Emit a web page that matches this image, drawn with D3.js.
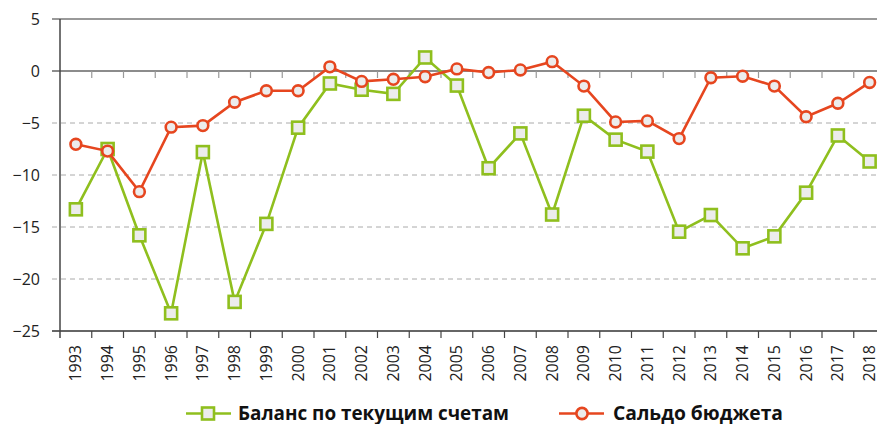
<!DOCTYPE html>
<html>
<head>
  <meta charset="utf-8">
  <script src="https://d3js.org/d3.v7.min.js"></script>
  <style>
    body { margin: 0; background: #fff; }
    svg { display: block; }
    .tick-label { font-family: 'Open Sans', 'Lato', sans-serif; font-size: 16px; fill: #222; }
    .legend-label { font-family: 'Open Sans', 'DejaVu Sans', sans-serif; font-weight: bold; font-size: 19px; fill: #111; }
  </style>
</head>
<body>
<svg id="chart" width="877" height="424"></svg>
<script>
  // data
  var years = ['1993','1994','1995','1996','1997','1998','1999','2000','2001','2002','2003','2004','2005',
               '2006','2007','2008','2009','2010','2011','2012','2013','2014','2015','2016','2017','2018'];
  var currentAccount = [-13.3, -7.5, -15.8, -23.3, -7.8, -22.2, -14.7, -5.45, -1.2, -1.8, -2.2, 1.3, -1.4,
                        -9.35, -6.0, -13.8, -4.3, -6.6, -7.75, -15.45, -13.85, -17.05, -15.9, -11.7, -6.2, -8.7];
  var budget = [-7.05, -7.7, -11.6, -5.4, -5.25, -3.0, -1.9, -1.9, 0.4, -1.0, -0.8, -0.55, 0.2,
                -0.15, 0.1, 0.9, -1.45, -4.9, -4.8, -6.5, -0.65, -0.5, -1.45, -4.4, -3.1, -1.1];
  var yTicks = [5, 0, -5, -10, -15, -20, -25];
  var seriesNames = ['Баланс по текущим счетам', 'Сальдо бюджета'];

  var green = '#8fbf1e', red = '#e6461f', markerFill = '#ececec';

  var svg = d3.select('#chart');
  var plotLeft = 60, plotRight = 885.5, plotTop = 19, plotBottom = 331;

  var x = d3.scaleBand().domain(years).range([plotLeft, plotRight]).padding(0);
  var y = d3.scaleLinear().domain([-25, 5]).range([plotBottom, plotTop]);
  var cx = function(yr) { return x(yr) + x.bandwidth() / 2; };

  // grid lines
  var grid = svg.append('g');
  grid.selectAll('line')
    .data(yTicks)
    .enter().append('line')
      .attr('x1', plotLeft - 8).attr('x2', 877)
      .attr('y1', d => y(d)).attr('y2', d => y(d))
      .attr('stroke', d => d === 0 ? '#666' : (d === 5 ? '#777' : (d === -25 ? '#333' : '#aaa')))
      .attr('stroke-width', d => (d === 0 || d === 5 || d === -25) ? 1.6 : 1)
      .attr('stroke-dasharray', d => (d === 0 || d === 5 || d === -25) ? null : '5,4');

  // left axis line
  svg.append('line')
    .attr('x1', plotLeft).attr('x2', plotLeft)
    .attr('y1', plotTop).attr('y2', plotBottom + 7)
    .attr('stroke', '#444').attr('stroke-width', 1.5);

  // y tick labels
  svg.append('g').selectAll('text')
    .data(yTicks)
    .enter().append('text')
      .attr('class', 'tick-label')
      .attr('x', 40)
      .attr('y', d => y(d))
      .attr('dy', '0.36em')
      .attr('text-anchor', 'end')
      .text(d => d < 0 ? '\u2212' + Math.abs(d) : d);

  // tick marks at band boundaries, at zero line and at bottom
  var bounds = years.map(yr => x(yr)).slice(1);
  svg.append('g').selectAll('line')
    .data(bounds)
    .enter().append('line')
      .attr('x1', d => d).attr('x2', d => d)
      .attr('y1', y(0)).attr('y2', y(0) + 7)
      .attr('stroke', '#999').attr('stroke-width', 1.2);
  svg.append('g').selectAll('line')
    .data(bounds)
    .enter().append('line')
      .attr('x1', d => d).attr('x2', d => d)
      .attr('y1', plotBottom).attr('y2', plotBottom + 7)
      .attr('stroke', '#444').attr('stroke-width', 1.2);

  // x labels, rotated
  svg.append('g').selectAll('text')
    .data(years)
    .enter().append('text')
      .attr('class', 'tick-label')
      .attr('transform', d => 'translate(' + (cx(d) + 5.5) + ',' + (plotBottom + 14) + ') rotate(-90)')
      .attr('text-anchor', 'end')
      .text(d => d);

  var line = d3.line().x((d, i) => cx(years[i])).y(d => y(d));

  // current account (green squares)
  svg.append('path')
    .datum(currentAccount)
    .attr('d', line)
    .attr('fill', 'none').attr('stroke', green).attr('stroke-width', 2.6);
  svg.append('g').selectAll('rect')
    .data(currentAccount)
    .enter().append('rect')
      .attr('x', (d, i) => cx(years[i]) - 6).attr('y', d => y(d) - 6)
      .attr('width', 12).attr('height', 12)
      .attr('fill', markerFill).attr('stroke', green).attr('stroke-width', 2.6);

  // budget (red circles)
  svg.append('path')
    .datum(budget)
    .attr('d', line)
    .attr('fill', 'none').attr('stroke', red).attr('stroke-width', 2.6);
  svg.append('g').selectAll('circle')
    .data(budget)
    .enter().append('circle')
      .attr('cx', (d, i) => cx(years[i])).attr('cy', d => y(d))
      .attr('r', 5.4)
      .attr('fill', markerFill).attr('stroke', red).attr('stroke-width', 2.6);

  // legend
  var lg = svg.append('g');
  var ly = 413.5;
  lg.append('line').attr('x1', 186).attr('x2', 231).attr('y1', ly).attr('y2', ly)
    .attr('stroke', green).attr('stroke-width', 2.6);
  lg.append('rect').attr('x', 202).attr('y', ly - 6).attr('width', 12).attr('height', 12)
    .attr('fill', markerFill).attr('stroke', green).attr('stroke-width', 2.6);
  lg.append('text').attr('class', 'legend-label').attr('x', 238).attr('y', ly).attr('dy', '0.33em')
    .attr('textLength', 271).attr('lengthAdjust', 'spacingAndGlyphs')
    .text(seriesNames[0]);

  lg.append('line').attr('x1', 559).attr('x2', 604).attr('y1', ly).attr('y2', ly)
    .attr('stroke', red).attr('stroke-width', 2.6);
  lg.append('circle').attr('cx', 582).attr('cy', ly).attr('r', 5.6)
    .attr('fill', markerFill).attr('stroke', red).attr('stroke-width', 2.6);
  lg.append('text').attr('class', 'legend-label').attr('x', 613).attr('y', ly).attr('dy', '0.33em')
    .attr('textLength', 170).attr('lengthAdjust', 'spacingAndGlyphs')
    .text(seriesNames[1]);
</script>
</body>
</html>
